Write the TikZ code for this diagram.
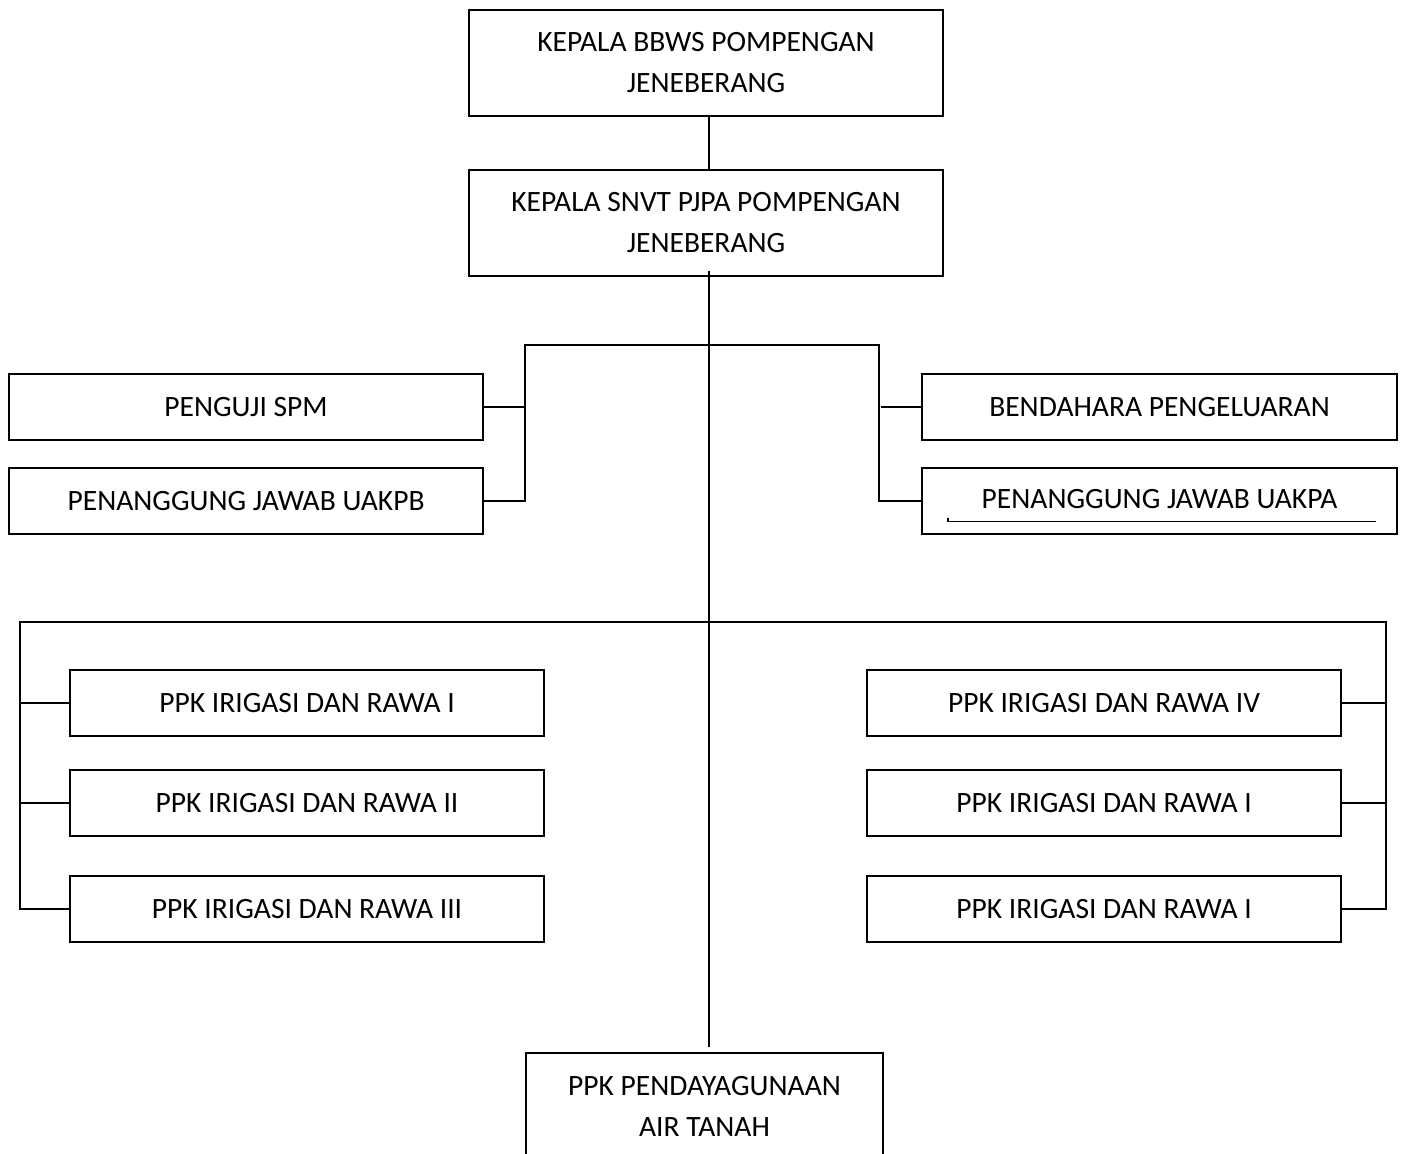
\documentclass[tikz,border=0pt]{standalone}
\usepackage{fontspec}
\setmainfont{Carlito}
\begin{document}
\begin{tikzpicture}[x=1pt,y=-1pt,
  orgbox/.style={draw, line width=1.7pt, inner sep=0pt, align=center,
    font=\fontsize{29.5}{41}\selectfont},
  wide/.style={orgbox, minimum width=474pt, minimum height=106pt},
  slim/.style={orgbox, minimum width=474pt, minimum height=66pt},
  link/.style={line width=1.7pt}]
\useasboundingbox (0,0) rectangle (1406,1154);
\clip (0,0) rectangle (1406,1154);
\fill[white] (0,0) rectangle (1406,1154);

\node[wide] (top) at (706,63) {KEPALA BBWS POMPENGAN\\JENEBERANG};
\node[wide] (snvt) at (706,223) {KEPALA SNVT PJPA POMPENGAN\\JENEBERANG};

\node[slim] (uji) at (246,407) {PENGUJI SPM};
\node[slim] (uakpb) at (246,501) {PENANGGUNG JAWAB UAKPB};
\node[slim, minimum width=475pt] (benda) at (1159.5,407) {BENDAHARA PENGELUARAN};
\node[slim, minimum width=475pt] (uakpa) at (1159.5,501) {\raisebox{4pt}{PENANGGUNG JAWAB UAKPA}};

\node[slim] (ppka) at (307,703) {PPK IRIGASI DAN RAWA I};
\node[slim] (ppkb) at (307,803) {PPK IRIGASI DAN RAWA II};
\node[slim] (ppkc) at (307,909) {PPK IRIGASI DAN RAWA III};
\node[slim] (ppkd) at (1104,703) {PPK IRIGASI DAN RAWA IV};
\node[slim] (ppke) at (1104,803) {PPK IRIGASI DAN RAWA I};
\node[slim] (ppkf) at (1104,909) {PPK IRIGASI DAN RAWA I};

\node[orgbox, minimum width=357pt, minimum height=106pt] (air) at (704.5,1106)
  {PPK PENDAYAGUNAAN\\AIR TANAH};

\coordinate (spine) at (709,0);
\coordinate (lb) at (525,345);
\coordinate (rb) at (879,345);
\coordinate (bl) at (20,622);
\coordinate (br) at (1386,622);

% vertical spine
\draw[link] (top.south -| spine) -- (snvt.north -| spine);
\draw[link] ([yshift=6pt]snvt.south -| spine) -- ([yshift=5pt]air.north -| spine);

% upper brackets
\draw[link] (uakpb.east) -| (lb) -- (rb) |- (uakpa.west);
\draw[link] (uji.east) -- (uji.east -| lb);
\draw[link] (benda.west) -- ++(-40,0);

% underline in UAKPA box
\draw[line width=1.3pt] ([shift={(-211.5pt,-17pt)}]uakpa.center)
  -- ([shift={(-211.5pt,-20.5pt)}]uakpa.center)
  -- ([shift={(216.5pt,-20.5pt)}]uakpa.center);

% lower brackets
\draw[link] (ppkc.west) -| (bl) -- (br) |- (ppkf.east);
\draw[link] (ppka.west) -- (ppka.west -| bl);
\draw[link] (ppkb.west) -- (ppkb.west -| bl);
\draw[link] (ppkd.east) -- (ppkd.east -| br);
\draw[link] (ppke.east) -- (ppke.east -| br);
\end{tikzpicture}
\end{document}
